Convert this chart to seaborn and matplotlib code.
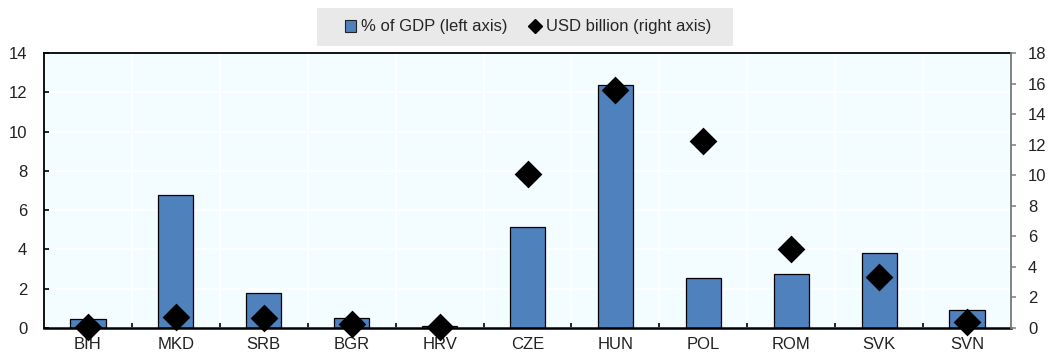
import numpy as np
import pandas as pd
import seaborn as sns
import matplotlib
matplotlib.use("Agg")
import matplotlib.pyplot as plt
from matplotlib.lines import Line2D
from matplotlib.patches import Patch, Rectangle
from matplotlib.ticker import FixedLocator

# Data
countries = ["BIH", "MKD", "SRB", "BGR", "HRV", "CZE", "HUN", "POL", "ROM", "SVK", "SVN"]
pct_gdp = [0.45, 6.77, 1.78, 0.52, 0.10, 5.16, 12.38, 2.57, 2.75, 3.80, 0.92]
usd_bn = [0.07, 0.72, 0.67, 0.26, 0.05, 10.10, 15.55, 12.24, 5.20, 3.32, 0.41]
left_ticks = [0, 2, 4, 6, 8, 10, 12, 14]
right_ticks = [0, 2, 4, 6, 8, 10, 12, 14, 16, 18]
bar_label = "% of GDP (left axis)"
point_label = "USD billion (right axis)"

BAR_COLOR = "#4F81BD"
BG_COLOR = "#F3FDFF"
FS = 12
W, H = 1051, 355

sns.set_theme(style="white")
plt.rcParams["font.family"] = ["Liberation Sans", "DejaVu Sans"]

df = pd.DataFrame({"country": countries, "pct": pct_gdp, "usd": usd_bn})

fig = plt.figure(figsize=(W / 100, H / 100), dpi=100)
ax = fig.add_axes([44 / W, 27 / H, 967 / W, 275 / H])
ax.set_facecolor(BG_COLOR)

sns.barplot(data=df, x="country", y="pct", color=BAR_COLOR, saturation=1,
            width=0.4, edgecolor="black", linewidth=0.9, ax=ax, zorder=2)
ax.set_xlim(-0.5, len(countries) - 0.5)
ax.set_ylim(0, 14)
ax.yaxis.set_major_locator(FixedLocator(left_ticks))
ax.set_xlabel("")
ax.set_ylabel("")

# white grid: horizontal at left-axis ticks, vertical at category boundaries
ax.xaxis.set_minor_locator(FixedLocator(np.arange(0.5, len(countries) - 0.5, 1)))
ax.grid(axis="y", which="major", color="white", linewidth=1.2, zorder=0)
ax.grid(axis="x", which="minor", color="white", linewidth=1.2, zorder=0)
ax.set_axisbelow(True)

ax.tick_params(axis="y", which="major", direction="in", length=3.8, width=1.2,
               color="black", left=True, pad=12, labelsize=FS, labelcolor="#222222")
ax.tick_params(axis="x", which="major", length=0, pad=6.5, labelsize=FS, labelcolor="#222222")
ax.tick_params(axis="x", which="minor", direction="in", length=3.8, width=1.2,
               color="black", bottom=True)

for side in ["left", "top", "bottom"]:
    ax.spines[side].set_color("black")
    ax.spines[side].set_linewidth(1.3)
ax.spines["bottom"].set_linewidth(1.8)
ax.spines["right"].set_visible(False)

ax2 = ax.twinx()
sns.scatterplot(data=df, x="country", y="usd", marker="D", s=200, color="black",
                edgecolor="black", linewidth=0, ax=ax2, legend=False, zorder=3, clip_on=False)
ax2.set_ylim(0, 18)
ax2.set_xlim(-0.5, len(countries) - 0.5)
ax2.yaxis.set_major_locator(FixedLocator(right_ticks))
ax2.set_ylabel("")
ax2.tick_params(axis="y", direction="out", length=3.8, width=1.2, color="#888888",
                right=True, pad=8.5, labelsize=FS, labelcolor="#222222")
for side in ["left", "top", "bottom"]:
    ax2.spines[side].set_visible(False)
ax2.spines["right"].set_color("#777777")
ax2.spines["right"].set_linewidth(1.3)

# legend band above the plot
fig.patches.append(Rectangle((317 / W, 1 - 46 / H), 416 / W, 38 / H,
                             transform=fig.transFigure, facecolor="#E9E9E9",
                             edgecolor="none", zorder=0))
handles = [
    Patch(facecolor=BAR_COLOR, edgecolor="#222222", linewidth=0.8, label=bar_label),
    Line2D([], [], marker="D", linestyle="none", markersize=7, color="black", label=point_label),
]
fig.legend(handles=handles, loc="center", bbox_to_anchor=(528 / W, 1 - 27 / H),
           ncol=2, frameon=False, fontsize=FS, handlelength=0.7, handleheight=0.7,
           handletextpad=0.3, columnspacing=1.3, borderpad=0, borderaxespad=0)

fig.savefig("out.png", dpi=100)
